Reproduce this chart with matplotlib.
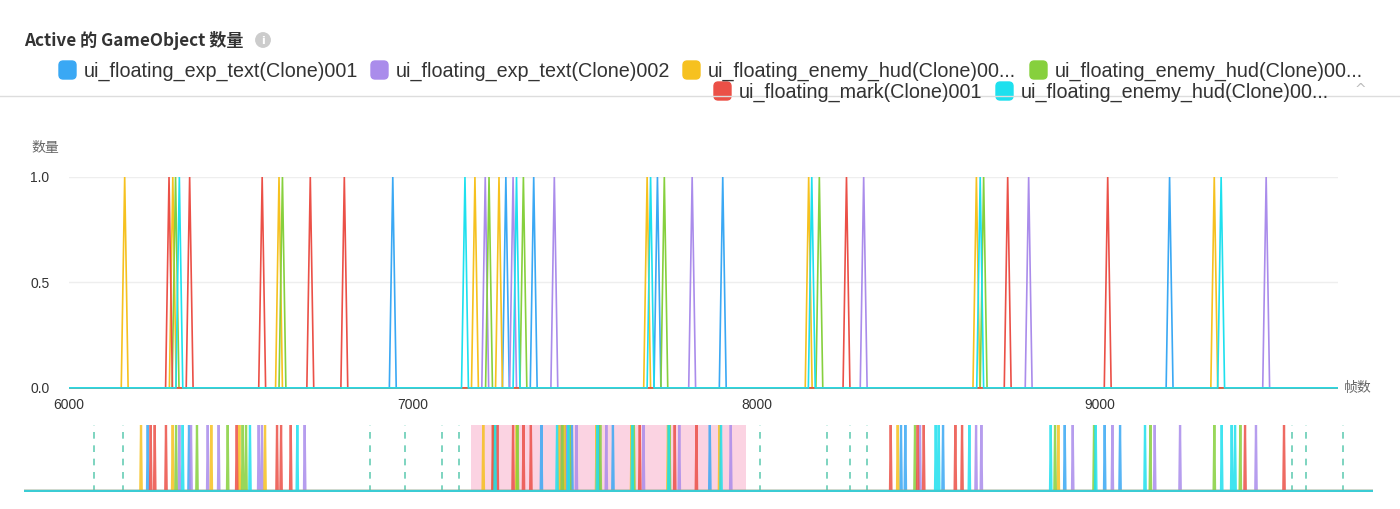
import matplotlib
matplotlib.use("Agg")
import matplotlib.pyplot as plt
from matplotlib.patches import FancyBboxPatch, Circle
import numpy as np

plt.rcParams['font.family'] = ['Noto Sans CJK SC', 'DejaVu Sans']

# ---------------- data ----------------
title = "Active 的 GameObject 数量"
series_names = [
    "ui_floating_exp_text(Clone)001",
    "ui_floating_exp_text(Clone)002",
    "ui_floating_enemy_hud(Clone)00...",
    "ui_floating_enemy_hud(Clone)00...",
    "ui_floating_mark(Clone)001",
    "ui_floating_enemy_hud(Clone)00...",
]
series_colors = ["#3AA8F4", "#AA8CEB", "#F6C11F", "#86D03D", "#EB5047", "#1EE0EE"]

# frames at which each object was active (count = 1)
blue_frames = [1660, 2214, 6942, 7271, 7352, 7712, 7902, 9202,
               11767, 11825, 12331, 13964, 14500, 14706]
purple_frames = [2084, 2241, 2465, 2612, 3149, 3193, 3766, 7211, 7292, 7412,
                 7813, 8312, 8792, 9483, 12022, 12774, 12845, 14071, 14603,
                 15171, 15511, 16530]
yellow_frames = [1570, 1995, 2513, 2889, 3234, 6162, 6302, 6611, 7181, 7251,
                 7682, 8152, 8640, 9332, 11723, 13878]
green_frames = [2040, 2321, 2733, 2934, 2979, 6310, 6621, 7222, 7322, 7732,
                8183, 8661, 11955, 13834, 14357, 15113, 15971, 16320]
red_frames = [1700, 1754, 1905, 2854, 3395, 3449, 3579, 6291, 6351, 6562,
              6702, 6801, 8262, 8731, 9022, 11629, 11991, 12072, 12496,
              12586, 16383, 16906]
cyan_frames = [2129, 3032, 3667, 6321, 7152, 7302, 7692, 8161, 8651, 9352,
               12233, 12273, 12684, 13776, 14380, 15041, 16070, 16204, 16249]
series_frames = [blue_frames, purple_frames, yellow_frames, green_frames,
                 red_frames, cyan_frames]

marker_frames = [936, 1326, 4642, 5112, 5608, 5837, 9875, 10771, 11081,
                 11306, 17019, 17201, 17704]

frame_start, frame_end = 0, 18100
sample_step = 10
view_start, view_end = 6000, 9692
x_ticks = [6000, 7000, 8000, 9000]
y_ticks = [0.0, 0.5, 1.0]


def spike_series(frames):
    xs, ys = [frame_start], [0]
    for f in sorted(frames):
        xs += [f - sample_step, f, f + sample_step]
        ys += [0, 1, 0]
    xs.append(frame_end)
    ys.append(0)
    return np.array(xs), np.array(ys)


W, H = 1400, 509
fig = plt.figure(figsize=(W / 100, H / 100), dpi=100)
fig.patch.set_facecolor("white")

def fx(px):
    return px / W

def fy(py):
    return 1 - py / H

# ---------------- header ----------------
fig.text(fx(24), fy(40), title, fontsize=12.3, fontweight="bold",
         color="#333333", va="center", ha="left")
# info icon
ax_icon = fig.add_axes([fx(255), fy(48), fx(16), 16 / H])
ax_icon.set_xlim(0, 1); ax_icon.set_ylim(0, 1); ax_icon.axis("off")
ax_icon.add_patch(Circle((0.5, 0.5), 0.45, color="#CCCCCC"))
ax_icon.text(0.5, 0.45, "i", ha="center", va="center", color="white",
             fontsize=8, fontweight="bold", family="DejaVu Sans")

# separator line
fig.add_artist(plt.Line2D([0, 1], [fy(95.5), fy(95.5)], color="#DDDDDD", lw=1))

# legend
legend_pos = [(58, 70), (370, 70), (682, 70), (1029, 70), (713, 91), (995, 91)]
for (px, py), name, col in zip(legend_pos, series_names, series_colors):
    fig.add_artist(FancyBboxPatch((fx(px + 1), fy(py + 9)), fx(17), 18 / H,
                                  boxstyle="round,pad=0,rounding_size=0.003",
                                  transform=fig.transFigure, color=col,
                                  mutation_aspect=W / H))
    fig.text(fx(px + 26), fy(py + 1), name, fontsize=14.2, color="#333333",
             va="center", ha="left", family=["Liberation Sans", "DejaVu Sans"])
fig.text(fx(1360), fy(90), "^", fontsize=10, color="#BBBBBB", ha="center",
         va="center", family="DejaVu Sans")

# ---------------- main chart ----------------
ymin = -0.01
ax = fig.add_axes([fx(69), fy(390), fx(1338 - 69), (390 - 177) / H])
for frames, col in zip(series_frames, series_colors):
    xs, ys = spike_series(frames)
    ax.plot(xs, ys, color=col, lw=1.2, solid_joinstyle="miter")
ax.set_xlim(view_start, view_end)
ax.set_ylim(ymin, 1.0)
ax.set_yticks(y_ticks)
ax.set_yticklabels([f"{v:.1f}" for v in y_ticks])
ax.set_xticks(x_ticks)
ax.set_xticklabels([str(v) for v in x_ticks])
for v in y_ticks[1:]:
    ax.axhline(v, color="#EEEEEE", lw=1, zorder=0)
for s in ax.spines.values():
    s.set_visible(False)
ax.tick_params(length=0, labelsize=10, colors="#333333", pad=6)
ax.tick_params(axis="y", pad=14)
for lab in ax.get_xticklabels() + ax.get_yticklabels():
    lab.set_family(["Liberation Sans", "DejaVu Sans"])
fig.text(fx(45), fy(148), "数量", fontsize=10, color="#666666", ha="center",
         va="center")
fig.text(fx(1358), fy(388), "帧数", fontsize=10, color="#666666", ha="center",
         va="center")

# ---------------- overview / brush ----------------
axo = fig.add_axes([fx(24), fy(492), fx(1373 - 24), (492 - 425) / H])
axo.axvspan(view_start, view_end, color="#FBD3E2", zorder=0, lw=0)
for m in marker_frames:
    axo.axvline(m, color="#67CDB5", lw=1.2, ls=(0, (4, 4)), zorder=1)
for frames, col in zip(series_frames, series_colors):
    xs, ys = spike_series(frames)
    axo.plot(xs, ys, color=col, lw=1.6, zorder=2, alpha=0.85)
axo.set_xlim(frame_start, frame_end)
axo.set_ylim(-0.015, 1.0)
axo.axis("off")

fig.savefig("out.png", dpi=100, facecolor="white")
